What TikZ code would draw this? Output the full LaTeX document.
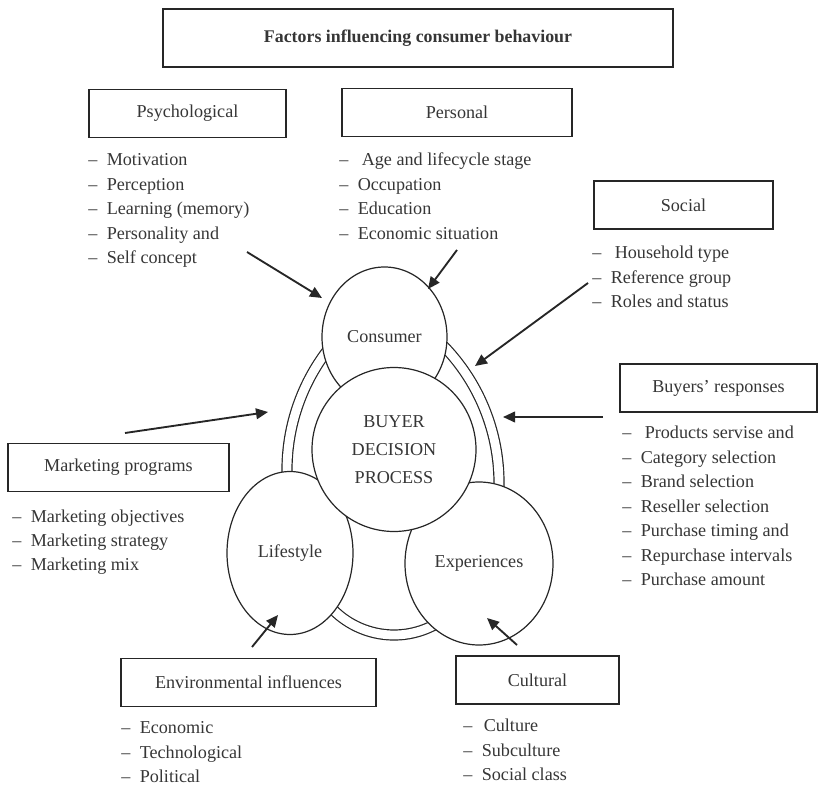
\documentclass[tikz,border=0pt]{standalone}
\usepackage{fontspec}
\setmainfont{Liberation Serif}
\usetikzlibrary{arrows.meta,shapes.geometric}
\definecolor{ink}{HTML}{262626}
\definecolor{txtc}{HTML}{363636}
\newcommand{\dash}{\makebox[13.9pt][l]{--}}
\tikzset{
	every node/.style={font=\fontsize{13.6}{17}\selectfont,text=txtc},
	box/.style={draw=ink,line width=1pt,rectangle,align=center,minimum height=36pt,inner sep=0pt},
	item/.style={anchor=base west,inner sep=0pt},
	blob/.style={draw=ink,line width=0.9pt,ellipse,fill=white,inner sep=0pt},
	dbl/.style={draw=ink,line width=0.9pt,double=white,double distance=6.6pt},
	arr/.style={-{Triangle[length=9pt,width=8pt]},draw=ink,line width=1.4pt}
}

\begin{document}
\begin{tikzpicture}[x=0.75pt,y=-0.75pt]
			\useasboundingbox (0,0) rectangle (819,785);

			\node[box,minimum width=382.5pt,minimum height=43.5pt,font={\fontsize{13.4}{16}\selectfont\bfseries}] (title) at (418,38) {Factors influencing consumer behaviour};

			\node[box,minimum width=147.75pt] (psy) at (187.5,113.5) {Psychological};
			\node[box,minimum width=172.5pt] (per) at (457,112.5) {Personal};
			\node[box,minimum width=134.25pt] (soc) at (683.5,205) {Social};
			\node[box,minimum width=147.75pt] (buy) at (718.5,388) {Buyers' responses};
			\node[box,minimum width=165.75pt] (mkt) at (118.5,467.5) {Marketing programs};
			\node[box,minimum width=191.25pt] (env) at (248.5,682.5) {Environmental influences};
			\node[box,minimum width=122.25pt] (cul) at (537.5,680) {Cultural};

			\foreach \t [count=\i from 0] in {Motivation,Perception,Learning (memory),Personality and,Self concept}
				\node[item] (psy-\i) at (88,{165.5+24.5*\i}) {\dash\t};
			\foreach \t [count=\i from 0] in {\hspace{3pt}Age and lifecycle stage,Occupation,Education,Economic situation}
				\node[item] (per-\i) at (339,{165.5+24.5*\i}) {\dash\t};
			\foreach \t [count=\i from 0] in {\hspace{3pt}Household type,Reference group,Roles and status}
				\node[item] (soc-\i) at (592,{258.5+24.5*\i}) {\dash\t};
			\foreach \t [count=\i from 0] in {\hspace{3pt}Products servise and,Category selection,Brand selection,Reseller selection,Purchase timing and,Repurchase intervals,Purchase amount}
				\node[item] (buy-\i) at (622,{438.5+24.5*\i}) {\dash\t};
			\foreach \t [count=\i from 0] in {Marketing objectives,Marketing strategy,Marketing mix}
				\node[item] (mkt-\i) at (12,{522.5+24*\i}) {\dash\t};
			\foreach \t [count=\i from 0] in {Economic,Technological,Political}
				\node[item] (env-\i) at (121,{733.5+24.5*\i}) {\dash\t};
			\foreach \t [count=\i from 0] in {\hspace{1.5pt}Culture,Subculture,Social class}
				\node[item] (cul-\i) at (463,{731.5+24.5*\i}) {\dash\t};

			\draw[dbl] (302,483) ++(10:197) arc[start angle=10,end angle=-52,radius=197];
			\draw[dbl] (484,470) ++(170:197) arc[start angle=170,end angle=232,radius=197];
			\draw[dbl] (394,549) ++(150:86) arc[start angle=150,end angle=30,radius=86];

			\node[blob,minimum width=93.75pt,minimum height=105pt] (cons) at (384.5,337) {Consumer};
			\node[blob,minimum width=94.5pt,minimum height=122.25pt] (life) at (290,553) {Lifestyle};
			\node[blob,minimum width=111pt,minimum height=122.25pt] (expe) at (479,563.5) {Experiences};
			\node[blob,circle,minimum size=123pt,align=center,font=\fontsize{13.6}{21}\selectfont] (bdp) at (394,449.5) {BUYER\\DECISION\\PROCESS};

			\coordinate (psy-s) at (247,252);
			\coordinate (psy-e) at (322,298);
			\coordinate (per-s) at (457,250);
			\coordinate (per-e) at (428,289);
			\coordinate (soc-s) at (588,283);
			\coordinate (soc-e) at (475,366);
			\coordinate (buy-s) at (603,417);
			\coordinate (buy-e) at (503,417);
			\coordinate (mkt-s) at (125,433);
			\coordinate (mkt-e) at (268,412);
			\coordinate (env-s) at (252,647);
			\coordinate (env-e) at (278,615);
			\coordinate (cul-s) at (517,645);
			\coordinate (cul-e) at (487,618);

			\draw[arr] (psy-s) -- (psy-e);
			\draw[arr] (per-s) -- (per-e);
			\draw[arr] (soc-s) -- (soc-e);
			\draw[arr] (buy-s) -- (buy-e);
			\draw[arr] (mkt-s) -- (mkt-e);
			\draw[arr] (env-s) -- (env-e);
			\draw[arr] (cul-s) -- (cul-e);
\end{tikzpicture}
\end{document}
